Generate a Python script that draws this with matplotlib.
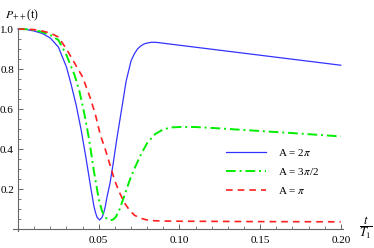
import matplotlib
matplotlib.use("Agg")
import matplotlib.pyplot as plt
from matplotlib.ticker import MultipleLocator, FixedLocator

plt.rcParams["font.family"] = ["Liberation Serif", "DejaVu Serif"]
plt.rcParams["mathtext.fontset"] = "stix"

# values
t_blue = [0, 0.005, 0.01, 0.015, 0.02, 0.025, 0.03, 0.033, 0.036, 0.039, 0.042,
          0.045, 0.047, 0.048, 0.049, 0.0505, 0.052, 0.053, 0.054, 0.055, 0.057,
          0.059, 0.061, 0.064, 0.067, 0.070, 0.072, 0.074, 0.076, 0.078, 0.080,
          0.083, 0.086, 0.09, 0.10, 0.12, 0.14, 0.16, 0.18, 0.20]
p_blue = [1.0, 0.998, 0.99, 0.978, 0.955, 0.91, 0.81, 0.72, 0.62, 0.50, 0.36,
          0.21, 0.115, 0.082, 0.058, 0.045, 0.057, 0.079, 0.11, 0.155, 0.23,
          0.33, 0.44, 0.59, 0.74, 0.84, 0.875, 0.90, 0.915, 0.925, 0.930,
          0.934, 0.933, 0.929, 0.919, 0.899, 0.879, 0.859, 0.839, 0.819]

t_green = [0, 0.005, 0.01, 0.015, 0.02, 0.025, 0.03, 0.032, 0.035, 0.038, 0.041,
           0.044, 0.047, 0.050, 0.052, 0.054, 0.056, 0.057, 0.058, 0.059, 0.060,
           0.061, 0.063, 0.066, 0.069, 0.072, 0.076, 0.080, 0.085, 0.090, 0.095,
           0.100, 0.11, 0.125, 0.15, 0.175, 0.20]
p_green = [1.0, 0.999, 0.995, 0.985, 0.97, 0.945, 0.87, 0.83, 0.77, 0.69, 0.58,
           0.45, 0.29, 0.15, 0.09, 0.058, 0.048, 0.046, 0.045, 0.048, 0.055,
           0.066, 0.10, 0.17, 0.24, 0.30, 0.37, 0.43, 0.475, 0.498, 0.508,
           0.51, 0.51, 0.503, 0.49, 0.477, 0.463]

t_red = [0, 0.005, 0.01, 0.015, 0.02, 0.025, 0.03, 0.035, 0.04, 0.045, 0.048,
         0.051, 0.054, 0.057, 0.060, 0.063, 0.066, 0.069, 0.072, 0.075, 0.08,
         0.085, 0.09, 0.10, 0.15, 0.20]
p_red = [1.0, 0.999, 0.997, 0.99, 0.98, 0.96, 0.90, 0.83, 0.76, 0.65, 0.57,
         0.47, 0.40, 0.32, 0.24, 0.18, 0.13, 0.095, 0.07, 0.056, 0.045,
         0.041, 0.04, 0.039, 0.037, 0.036]

x_ticks = [0.05, 0.10, 0.15, 0.20]
x_labels = ["0.05", "0.10", "0.15", "0.20"]
y_ticks = [0.2, 0.4, 0.6, 0.8, 1.0]
y_labels = ["0.2", "0.4", "0.6", "0.8", "1.0"]

fig = plt.figure(figsize=(3.74, 2.48), dpi=100)
ax = fig.add_axes([0.0353, 0.0685, 0.8824, 0.8185])

ax.plot(t_blue, p_blue, color="#3333ff", lw=0.9, label=r"A = 2$\pi$")
ax.plot(t_green, p_green, color="#00ee00", lw=1.4, dashes=(5, 2, 1, 2),
        label=r"A = 3$\pi$/2")
ax.plot(t_red, p_red, color="#ff2020", lw=1.2, dashes=(4, 3), label=r"A = $\pi$")

ax.set_xlim(-0.003, 0.2015)
ax.set_ylim(-0.01, 1.005)
for s in ["top", "right"]:
    ax.spines[s].set_visible(False)
ax.spines["left"].set_position(("data", 0))
ax.spines["bottom"].set_position(("data", 0))
for s in ["left", "bottom"]:
    ax.spines[s].set_color("#666666")
    ax.spines[s].set_linewidth(0.8)

ax.xaxis.set_major_locator(FixedLocator(x_ticks))
ax.set_xticklabels(x_labels)
ax.yaxis.set_major_locator(FixedLocator(y_ticks))
ax.set_yticklabels(y_labels)
ax.xaxis.set_minor_locator(MultipleLocator(0.01))
ax.yaxis.set_minor_locator(MultipleLocator(0.05))
ax.tick_params(which="both", direction="in", color="#666666", labelsize=8)
ax.tick_params(which="major", length=3.5, width=0.7)
ax.tick_params(which="minor", length=2, width=0.6)
ax.tick_params(axis="x", pad=5)
ax.tick_params(axis="y", pad=3)

leg = ax.legend(loc="upper left", bbox_to_anchor=(226 / 374, 1 - 147 / 248),
                bbox_transform=fig.transFigure, frameon=False, fontsize=8,
                borderpad=0, borderaxespad=0, handlelength=3.6,
                handletextpad=1.1, labelspacing=0.7)

fig.text(0.013, 1 - 15 / 248, r"$P_{++}$(t)", fontsize=8.5, va="center", ha="left")
fig.text(366 / 374, 1 - 228 / 248, r"$\dfrac{t}{T_1}$", fontsize=9,
         va="center", ha="center")

fig.savefig("out.png", dpi=100)
